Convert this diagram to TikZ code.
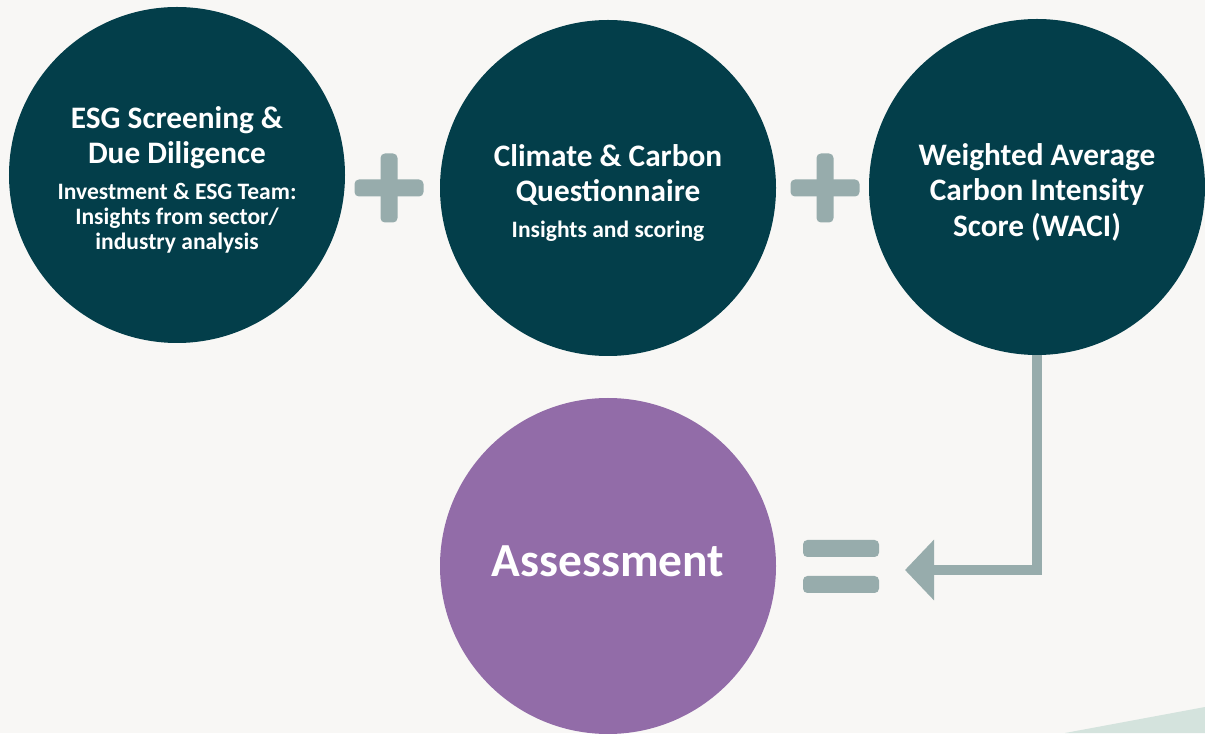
\documentclass[tikz,border=0pt]{standalone}
\usepackage{fontspec}
\setmainfont{Carlito}
\usetikzlibrary{arrows.meta}

\definecolor{paper}{HTML}{F8F7F5}
\definecolor{darkteal}{HTML}{033E4A}
\definecolor{sagegray}{HTML}{97ACAC}
\definecolor{lilac}{HTML}{926CA8}
\definecolor{mint}{HTML}{D4E3DD}

\newcommand{\subfont}{\fontsize{13.4}{14.2}\selectfont}
\newcommand{\dropline}[1]{\raisebox{0.2cm}{\vphantom{#1}}#1}

\tikzset{
    disc/.style={circle, fill=darkteal, minimum size=6.72cm, inner sep=0pt,
        text=white, align=center, font=\bfseries\fontsize{17.8}{20.2}\selectfont},
    bar/.style={fill=sagegray, rounded corners=2.5pt},
    flow/.style={draw=sagegray, line width=0.2cm, line join=miter,
        -{Triangle[length=0.58cm,width=1.18cm]}},
}

\begin{document}
\begin{tikzpicture}

    \fill[paper] (0,0) rectangle (24.1,14.66);
    \useasboundingbox (0,0) rectangle (24.1,14.66);
    \fill[mint] (21.3,0) -- (24.1,0.52) -- (24.1,0) -- cycle;

    \node[disc] (esg) at (3.54,11.16) {\dropline{ESG Screening \&}\\Due Diligence\\
        {\subfont Investment \& ESG Team:}\\[-5.8pt]
        {\subfont Insights from sector/}\\[-5.8pt]
        {\subfont industry analysis}};
    \node[disc] (climate) at (12.16,10.90) {\dropline{Climate \& Carbon}\\Questionnaire\\
        {\subfont Insights and scoring}};
    \node[disc] (waci) at (20.74,10.92) {\dropline{Weighted Average}\\Carbon Intensity\\Score (WACI)};
    \node[disc, fill=lilac, font=\bfseries\fontsize{27}{30}\selectfont] (assess) at (12.16,3.34)
        {\raisebox{0.2cm}{Assessment}};

    % plus signs
    \fill[bar] (7.09,10.73) rectangle (8.47,11.07);
    \fill[bar] (7.61,10.21) rectangle (7.95,11.59);
    \fill[bar] (15.81,10.73) rectangle (17.19,11.07);
    \fill[bar] (16.33,10.21) rectangle (16.67,11.59);

    % equals sign
    \fill[bar] (16.06,3.52) rectangle (17.58,3.86);
    \fill[bar] (16.06,2.80) rectangle (17.58,3.14);

    \coordinate (tip) at (18.10,3.26);
    \draw[flow] (waci.south) |- (tip);

\end{tikzpicture}
\end{document}
